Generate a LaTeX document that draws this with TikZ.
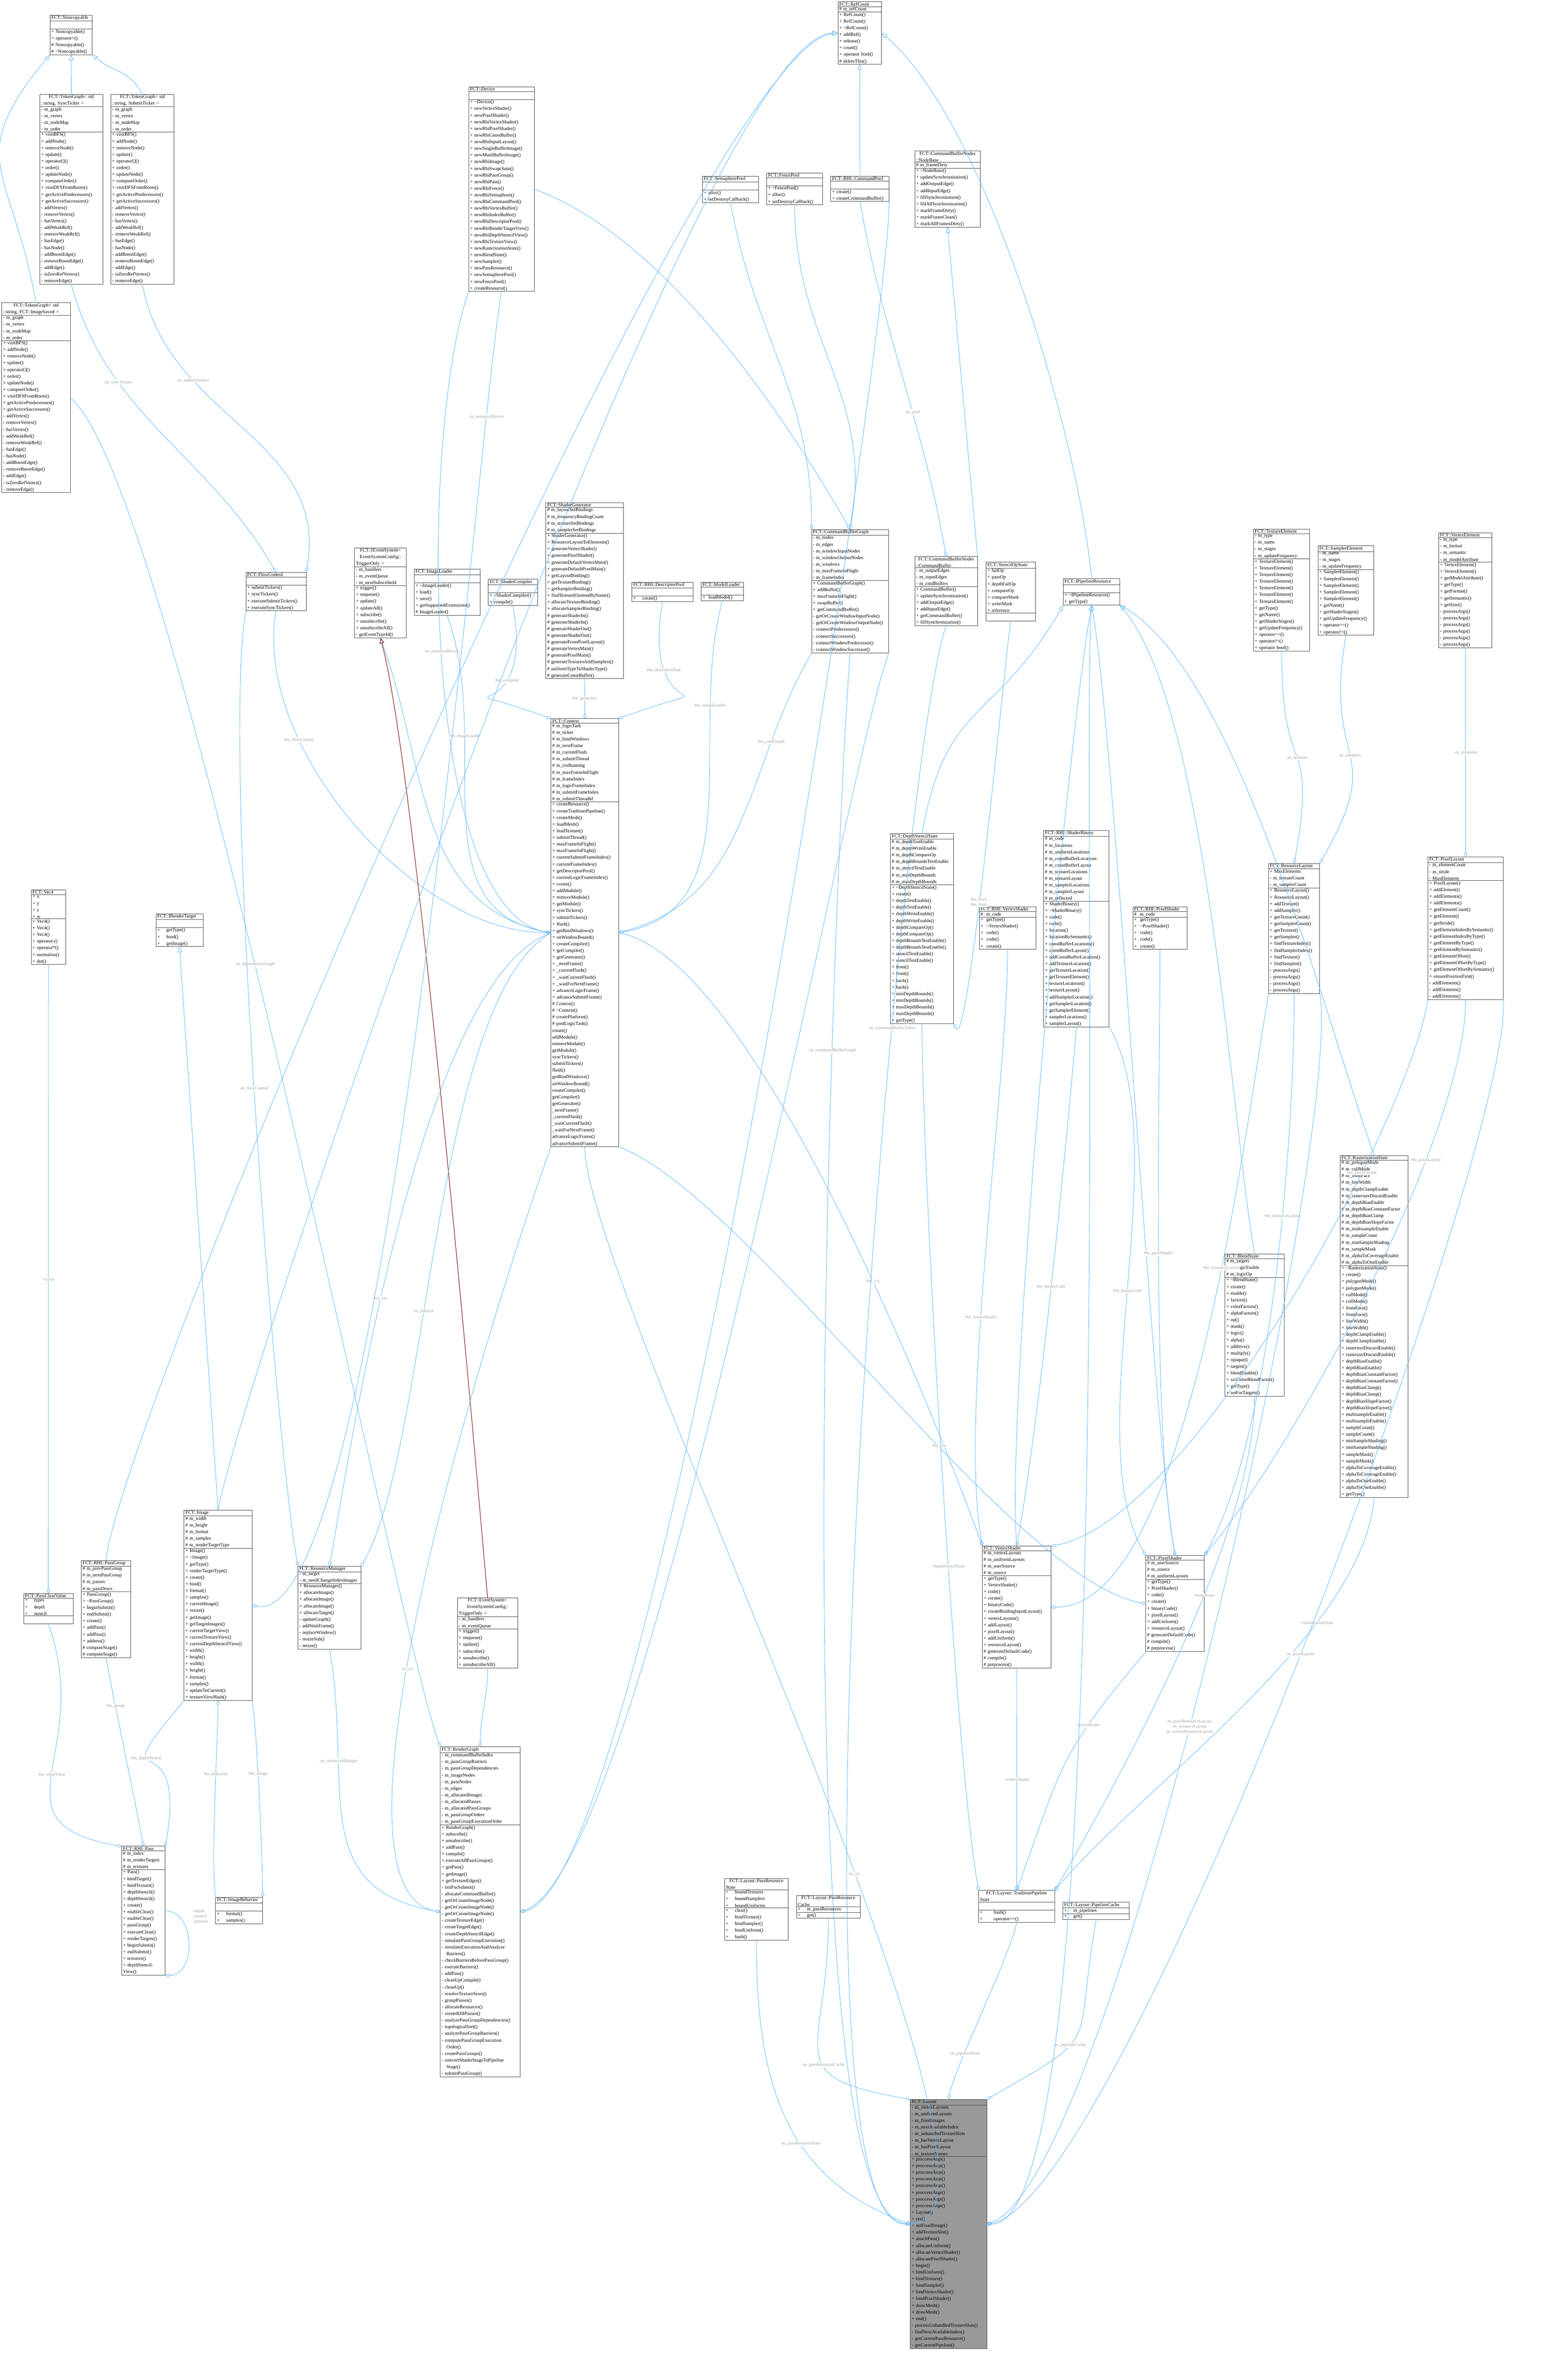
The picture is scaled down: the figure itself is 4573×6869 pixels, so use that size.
\documentclass[tikz,border=0pt]{standalone}
\usepackage{fontspec}
\setmainfont{Liberation Serif}
\usetikzlibrary{shapes.multipart,arrows.meta,calc}
\definecolor{edgeblue}{RGB}{99,184,255}
\definecolor{lblgray}{RGB}{160,160,160}
\definecolor{inhred}{RGB}{139,26,26}
\definecolor{boxgray}{RGB}{153,153,153}
\tikzset{
  umlbox/.style={draw=black!70, line width=0.12pt, rectangle split, rectangle split parts=3,
    rectangle split empty part height=12pt, inner xsep=4pt, inner ysep=2pt, anchor=north west,
    align=left, font=\fontsize{14}{19.4}\selectfont, fill=white},
  agg/.style={draw=edgeblue, line width=0.13pt, -{Diamond[open,length=1.6pt,width=1pt]}},
  inh/.style={draw=edgeblue, line width=0.13pt, -{Triangle[open,length=1.6pt,width=1.3pt]}},
  inhr/.style={draw=inhred, line width=0.16pt, -{Triangle[open,length=1.6pt,width=1.3pt]}},
  lbl/.style={text=lblgray, font=\fontsize{13}{15}\selectfont, fill=white, inner sep=1pt},
  cv/.style args={#1/#2}{to path={.. controls ($(\tikztostart)+({-(#1)}:400)$) and ($(\tikztotarget)+({-(#2)}:400)$) .. (\tikztotarget) \tikztonodes}},
  cvs/.style args={#1/#2}{to path={.. controls ($(\tikztostart)+({-(#1)}:90)$) and ($(\tikztotarget)+({-(#2)}:90)$) .. (\tikztotarget) \tikztonodes}}
}
\newcommand\uml[8][]{\pgfmathsetmacro\umlw{#5-8}%
  \node[umlbox, text width=\umlw pt, #1] (#2) at (#3,#4) {\centering #6\nodepart{two}#7\nodepart{three}#8};}
\begin{document}
\begin{tikzpicture}[x=1pt,y=-1pt,scale=0.1,transform shape]
\useasboundingbox (0,0) rectangle (4573,6869);
% ---------------- top left -----------------
\uml{noncopy}{146}{44}{123}{FCT::Noncopyable}{\strut}{+ Noncopyable()\\+ operator=()\\\# Noncopyable()\\\# \textasciitilde Noncopyable()}
\def\tgattrs{- m\_graph\\- m\_vertex\\- m\_nodeMap\\- m\_order}
\def\tgmeth{+ visitBFS()\\+ addNode()\\+ removeNode()\\+ update()\\+ operator[]()\\+ order()\\+ updateNode()\\+ computeOrder()\\+ visitDFSFromRoots()\\+ getActivePredecessors()\\+ getActiveSuccessors()\\- addVertex()\\- removeVertex()\\- hasVertex()\\- addWeakRef()\\- removeWeakRef()\\- hasEdge()\\- hasNode()\\- addBoostEdge()\\- removeBoostEdge()\\- addEdge()\\- isZeroRefVertex()\\- removeEdge()}
\uml{tgsync}{116}{275}{184}{FCT::TokenGraph< std\\::string, SyncTicker >}{\tgattrs}{\tgmeth}
\uml{tgsubmit}{323}{275}{185}{FCT::TokenGraph< std\\::string, SubmitTicker >}{\tgattrs}{\tgmeth}
\uml{tgimg}{5}{883}{200}{FCT::TokenGraph< std\\::string, FCT::ImageSaved >}{\tgattrs}{\tgmeth}
\uml{flow}{717}{1669}{176}{FCT::FlowControl}{\strut}{+ submitTickers()\\+ syncTickers()\\+ executeSubmitTickers()\\+ executeSyncTickers()}
% ---------------- top center -----------------
\uml{device}{1367}{253}{191}{FCT::Device}{\strut}{+ \textasciitilde Device()\\+ newVertexShader()\\+ newPixelShader()\\+ newRhiVertexShader()\\+ newRhiPixelShader()\\+ newRhiConstBuffer()\\+ newRhiInputLayout()\\+ newSingleBufferImage()\\+ newMutilBufferImage()\\+ newRhiImage()\\+ newRhiSwapchain()\\+ newRhiPassGroup()\\+ newRhiPass()\\+ newRhiFence()\\+ newRhiSemaphore()\\+ newRhiCommandPool()\\+ newRhiVertexBuffer()\\+ newRhiIndexBuffer()\\+ newRhiDescriptorPool()\\+ newRhiRenderTargetView()\\+ newRhiDepthStencilView()\\+ newRhiTextureView()\\+ newRasterizationState()\\+ newBlendState()\\+ newSampler()\\+ newPassResource()\\+ newSemaphorePool()\\+ newFencePool()\\+ createResource()}
\uml{refcount}{2444}{5}{127}{FCT::RefCount}{\# m\_refCount}{+ RefCount()\\+ RefCount()\\+ \textasciitilde RefCount()\\+ addRef()\\+ release()\\+ count()\\+ operator bool()\\\# deleteThis()}
\uml{sempool}{2049}{514}{163}{FCT::SemaphorePool}{\strut}{+ alloc()\\+ setDestroyCallback()}
\uml{fencepool}{2236}{504}{163}{FCT::FencePool}{\strut}{+ \textasciitilde FencePool()\\+ alloc()\\+ setDestroyCallback()}
\uml{cmdpool}{2423}{514}{170}{FCT::RHI::CommandPool}{\strut}{+ create()\\+ createCommandBuffer()}
\uml{nodebase}{2668}{440}{191}{FCT::CommandBufferNodes\\::NodeBase}{\# m\_frameDirty}{+ \textasciitilde NodeBase()\\+ updateSynchronization()\\+ addOutputEdge()\\+ addInputEdge()\\+ fillSynchronization()\\+ fillAllSynchronization()\\+ markFrameDirty()\\+ markFrameClean()\\+ markAllFramesDirty()}
\uml{cmdbuf}{2668}{1623}{183}{FCT::CommandBufferNodes\\::CommandBuffer}{- m\_outputEdges\\- m\_inputEdges\\- m\_cmdBuffers}{+ CommandBuffer()\\+ updateSynchronization()\\+ addOutputEdge()\\+ addInputEdge()\\+ getCommandBuffer()\\+ fillSynchronization()}
\uml{stencil}{2876}{1640}{144}{FCT::StencilOpState}{+ failOp\\+ passOp\\+ depthFailOp\\+ compareOp\\+ compareMask\\+ writeMask\\+ reference}{\strut}
\uml{ipipe}{3101}{1688}{165}{FCT::IPipelineResource}{\strut}{+ \textasciitilde IPipelineResource()\\+ getType()}
\uml{texel}{3656}{1543}{164}{FCT::TextureElement}{- m\_type\\- m\_name\\- m\_stages\\- m\_updateFrequency}{+ TextureElement()\\+ TextureElement()\\+ TextureElement()\\+ TextureElement()\\+ TextureElement()\\+ TextureElement()\\+ TextureElement()\\+ getType()\\+ getName()\\+ getShaderStages()\\+ getUpdateFrequency()\\+ operator==()\\+ operator!=()\\+ operator bool()}
\uml{sampel}{3844}{1592}{163}{FCT::SamplerElement}{- m\_name\\- m\_stages\\- m\_updateFrequency}{+ SamplerElement()\\+ SamplerElement()\\+ SamplerElement()\\+ SamplerElement()\\+ SamplerElement()\\+ getName()\\+ getShaderStages()\\+ getUpdateFrequency()\\+ operator==()\\+ operator!=()}
\uml{vertel}{4196}{1554}{156}{FCT::VertexElement}{- m\_type\\- m\_format\\- m\_semantic\\- m\_modelAttribute}{+ VertexElement()\\+ VertexElement()\\+ getModelAttribute()\\+ getType()\\+ getFormat()\\+ getSemantic()\\+ getSize()\\- processArgs()\\- processArgs()\\- processArgs()\\- processArgs()\\- processArgs()\\- processArgs()}
% ---------------- middle row -----------------
\uml{ievent}{1034}{1598}{151}{FCT::IEventSystem<\\EventSystemConfig::\\TriggerOnly >}{- m\_handlers\\- m\_eventQueue\\- m\_nextSubscribeId}{+ trigger()\\+ enqueue()\\+ update()\\+ updateAll()\\+ subscribe()\\+ unsubscribe()\\+ unsubscribeAll()\\- getEventTypeId()}
\uml{imgloader}{1208}{1660}{192}{FCT::ImageLoader}{\strut}{+ \textasciitilde ImageLoader()\\+ load()\\+ save()\\+ getSupportedExtensions()\\\# ImageLoader()}
\uml{compiler}{1424}{1689}{144}{FCT::ShaderCompiler}{\strut}{+ \textasciitilde ShaderCompiler()\\+ compile()}
\uml{generator}{1592}{1466}{226}{FCT::ShaderGenerator}{\# m\_layoutSetBindings\\\# m\_frequencyBindingCount\\\# m\_textureSetBindings\\\# m\_samplerSetBindings}{+ ShaderGenerator()\\+ ResourceLayoutToElements()\\+ generateVertexShader()\\+ generatePixelShader()\\+ generateDefaultVertexMain()\\+ generateDefaultPixelMain()\\+ getLayoutBinding()\\+ getTextureBinding()\\+ getSamplerBinding()\\+ findTextureElementByName()\\+ allocateTextureBinding()\\+ allocateSamplerBinding()\\\# generateShaderIn()\\\# generateShaderIn()\\\# generateShaderOut()\\\# generateShaderOut()\\\# generateFromPixelLayout()\\\# generateVertexMain()\\\# generatePixelMain()\\\# generateTexturesAndSamplers()\\\# uniformTypeToShaderType()\\\# generateConstBuffer()}
\uml{descpool}{1843}{1698}{179}{FCT::RHI::DescriptorPool}{\strut}{+ \quad create()}
\uml{modelloader}{2045}{1698}{123}{FCT::ModelLoader}{\strut}{+ \ loadModel()}
\uml{cbgraph}{2367}{1544}{225}{FCT::CommandBufferGraph}{- m\_nodes\\- m\_edges\\- m\_windowInputNodes\\- m\_windowOutputNodes\\- m\_windows\\- m\_maxFrameInFlight\\- m\_frameIndex}{+ CommandBufferGraph()\\+ addBuffer()\\+ maxFrameInFlight()\\+ swapBuffer()\\+ getCommandBuffer()\\- getOrCreateWindowInputNode()\\- getOrCreateWindowOutputNode()\\- connectPredecessors()\\- connectSuccessors()\\- connectWindowPredecessor()\\- connectWindowSuccessor()}
\uml{context}{1607}{2096}{197}{FCT::Context}{\# m\_logicTask\\\# m\_ticker\\\# m\_bindWindows\\\# m\_nextFrame\\\# m\_currentFlush\\\# m\_submitThread\\\# m\_ctxRunning\\\# m\_maxFrameInFlight\\\# m\_frameIndex\\\# m\_logicFrameIndex\\\# m\_submitFrameIndex\\\# m\_submitThreadId}{+ createResource()\\+ createTraditionPipeline()\\+ createMesh()\\+ loadMesh()\\+ loadTexture()\\+ submitThread()\\+ maxFrameInFlight()\\+ maxFrameInFlight()\\+ currentSubmitFrameIndex()\\+ currentFrameIndex()\\+ getDescriptorPool()\\+ currentLogicFrameIndex()\\+ create()\\+ addModule()\\+ removeModule()\\+ getModule()\\+ syncTickers()\\+ submitTickers()\\+ flush()\\+ getBindWindows()\\+ onWindowBound()\\+ createCompiler()\\+ getCompiler()\\+ getGenerator()\\+ \_nextFrame()\\+ \_currentFlush()\\+ \_waitCurrentFlush()\\+ \_waitForNextFrame()\\+ advanceLogicFrame()\\+ advanceSubmitFrame()\\\# Context()\\\# \textasciitilde Context()\\\# createPlatform()\\\# postLogicTask()\\* create()\\* addModule()\\* removeModule()\\* getModule()\\* syncTickers()\\* submitTickers()\\* flush()\\* getBindWindows()\\* onWindowBound()\\* createCompiler()\\* getCompiler()\\* getGenerator()\\* \_nextFrame()\\* \_currentFlush()\\* \_waitCurrentFlush()\\* \_waitForNextFrame()\\* advanceLogicFrame()\\* advanceSubmitFrame()}
% ---------------- right middle -----------------
\uml{dss}{2597}{2431}{184}{FCT::DepthStencilState}{\# m\_depthTestEnable\\\# m\_depthWriteEnable\\\# m\_depthCompareOp\\\# m\_depthBoundsTestEnable\\\# m\_stencilTestEnable\\\# m\_minDepthBounds\\\# m\_maxDepthBounds}{+ \textasciitilde DepthStencilState()\\+ create()\\+ depthTestEnable()\\+ depthTestEnable()\\+ depthWriteEnable()\\+ depthWriteEnable()\\+ depthCompareOp()\\+ depthCompareOp()\\+ depthBoundsTestEnable()\\+ depthBoundsTestEnable()\\+ stencilTestEnable()\\+ stencilTestEnable()\\+ front()\\+ front()\\+ back()\\+ back()\\+ minDepthBounds()\\+ minDepthBounds()\\+ maxDepthBounds()\\+ maxDepthBounds()\\+ getType()}
\uml{rhivs}{2856}{2645}{165}{FCT::RHI::VertexShader}{\# \ m\_code}{+ \ getType()\\+ \ \textasciitilde VertexShader()\\+ \ code()\\+ \ code()\\+ \ create()}
\uml{shbin}{3044}{2422}{191}{FCT::RHI::ShaderBinary}{\# m\_code\\\# m\_locations\\\# m\_uniformLocations\\\# m\_constBufferLocations\\\# m\_constBufferLayout\\\# m\_textureLocations\\\# m\_textureLayout\\\# m\_samplerLocations\\\# m\_samplerLayout\\\# m\_reflected}{+ ShaderBinary()\\+ \textasciitilde ShaderBinary()\\+ code()\\+ code()\\+ location()\\+ locationBySemantic()\\+ constBufferLocations()\\+ constBufferLayout()\\+ addConstBufferLocation()\\+ addTextureLocation()\\+ getTextureLocation()\\+ getTextureElement()\\+ textureLocations()\\+ textureLayout()\\+ addSamplerLocation()\\+ getSamplerLocation()\\+ getSamplerElement()\\+ samplerLocations()\\+ samplerLayout()}
\uml{rhips}{3304}{2645}{158}{FCT::RHI::PixelShader}{\# \ m\_code}{+ \ getType()\\+ \ \textasciitilde PixelShader()\\+ \ code()\\+ \ code()\\+ \ create()}
\uml{reslayout}{3700}{2518}{149}{FCT::ResourceLayout}{+ MaxElements\\- m\_textureCount\\- m\_samplerCount}{+ ResourceLayout()\\+ ResourceLayout()\\+ addTexture()\\+ addSampler()\\+ getTextureCount()\\+ getSamplerCount()\\+ getTexture()\\+ getSampler()\\+ findTextureIndex()\\+ findSamplerIndex()\\+ findTexture()\\+ findSampler()\\- processArgs()\\- processArgs()\\- processArgs()\\- processArgs()}
\uml{pixlayout}{4165}{2499}{219}{FCT::PixelLayout}{- m\_elementCount\\- m\_stride\\- MaxElements}{+ PixelLayout()\\+ addElement()\\+ addElements()\\+ addElements()\\+ getElementCount()\\+ getElement()\\+ getStride()\\+ getElementIndexBySemantic()\\+ getElementIndexByType()\\+ getElementByType()\\+ getElementBySemantic()\\+ getElementOffset()\\+ getElementOffsetByType()\\+ getElementOffsetBySemantic()\\+ ensurePositionFirst()\\- addElements()\\- addElements()\\- addElements()}
\uml{raster}{3909}{3370}{198}{FCT::RasterizationState}{\# m\_polygonMode\\\# m\_cullMode\\\# m\_frontFace\\\# m\_lineWidth\\\# m\_depthClampEnable\\\# m\_rasterizerDiscardEnable\\\# m\_depthBiasEnable\\\# m\_depthBiasConstantFactor\\\# m\_depthBiasClamp\\\# m\_depthBiasSlopeFactor\\\# m\_multisampleEnable\\\# m\_sampleCount\\\# m\_minSampleShading\\\# m\_sampleMask\\\# m\_alphaToCoverageEnable\\\# m\_alphaToOneEnable}{+ \textasciitilde RasterizationState()\\+ create()\\+ polygonMode()\\+ polygonMode()\\+ cullMode()\\+ cullMode()\\+ frontFace()\\+ frontFace()\\+ lineWidth()\\+ lineWidth()\\+ depthClampEnable()\\+ depthClampEnable()\\+ rasterizerDiscardEnable()\\+ rasterizerDiscardEnable()\\+ depthBiasEnable()\\+ depthBiasEnable()\\+ depthBiasConstantFactor()\\+ depthBiasConstantFactor()\\+ depthBiasClamp()\\+ depthBiasClamp()\\+ depthBiasSlopeFactor()\\+ depthBiasSlopeFactor()\\+ multisampleEnable()\\+ multisampleEnable()\\+ sampleCount()\\+ sampleCount()\\+ minSampleShading()\\+ minSampleShading()\\+ sampleMask()\\+ sampleMask()\\+ alphaToCoverageEnable()\\+ alphaToCoverageEnable()\\+ alphaToOneEnable()\\+ alphaToOneEnable()\\+ getType()}
\uml{blend}{3573}{3657}{172}{FCT::BlendState}{\# m\_targets\\\# m\_logicEnable\\\# m\_logicOp}{+ \textasciitilde BlendState()\\+ create()\\+ enable()\\+ factors()\\+ colorFactors()\\+ alphaFactors()\\+ op()\\+ mask()\\+ logic()\\+ alpha()\\+ additive()\\+ multiply()\\+ opaque()\\+ targets()\\+ blendEnable()\\+ srcColorBlendFactor()\\+ getType()\\+ setForTargets()}
\uml{vs}{2865}{4509}{201}{FCT::VertexShader}{\# m\_vertexLayouts\\\# m\_uniformLayouts\\\# m\_userSource\\\# m\_source}{+ getType()\\+ VertexShader()\\+ code()\\+ create()\\+ binaryCode()\\+ createBindingInputLayout()\\+ vertexLayouts()\\+ addLayout()\\+ pixelLayout()\\+ addUniform()\\+ resourceLayout()\\\# generateDefaultCode()\\\# compile()\\\# preprocess()}
\uml{ps}{3342}{4537}{170}{FCT::PixelShader}{\# m\_userSource\\\# m\_source\\\# m\_uniformLayouts}{+ getType()\\+ PixelShader()\\+ code()\\+ create()\\+ binaryCode()\\+ pixelLayout()\\+ addUniform()\\+ resourceLayout()\\\# generateDefaultCode()\\\# compile()\\\# preprocess()}
\uml{prs}{2113}{5479}{186}{FCT::Layout::PassResource\\State}{+ \quad boundTextures\\+ \quad boundSamplers\\+ \quad boundUniforms}{+ \quad clear()\\+ \quad bindTexture()\\+ \quad bindSampler()\\+ \quad bindUniform()\\+ \quad hash()}
\uml{prc}{2323}{5529}{186}{FCT::Layout::PassResource\\Cache}{+ \quad m\_passResources}{+ \quad get()}
\uml{tps}{2854}{5514}{222}{FCT::Layout::TraditionPipeline\\State}{\strut}{+ \qquad hash()\\+ \qquad operator==()}
\uml{pcache}{3100}{5548}{194}{FCT::Layout::PipelineCache}{+ \quad m\_pipelines}{+ \quad get()}
\uml[fill=boxgray]{layout}{2655}{6123}{223}{FCT::Layout}{- m\_vertexLayouts\\- m\_uniformLayouts\\- m\_fixedImages\\- m\_nextAvailableIndex\\- m\_unhandledTextureSlots\\- m\_hasVertexLayout\\- m\_hasPixelLayout\\- m\_textureNames}{+ proccessArgs()\\+ proccessArgs()\\+ proccessArgs()\\+ proccessArgs()\\+ proccessArgs()\\+ proccessArgs()\\+ proccessArgs()\\+ proccessArgs()\\+ Layout()\\+ ctx()\\+ setFixedImage()\\+ addTextureSlot()\\+ attachPass()\\+ allocateUniform()\\+ allocateVertexShader()\\+ allocatePixelShader()\\+ begin()\\+ bindUniform()\\+ bindTexture()\\+ bindSampler()\\+ bindVertexShader()\\+ bindPixelShader()\\+ drawMesh()\\+ drawMesh()\\+ end()\\- processUnhandledTextureSlots()\\- findNextAvailableIndex()\\- getCurrentPassResource()\\- getCurrentPipeline()}
% ---------------- bottom left -----------------
\uml{vec4}{91}{2596}{101}{FCT::Vec4}{+ x\\+ y\\+ z\\+ w}{+ Vec4()\\+ Vec4()\\+ Vec4()\\+ operator-()\\+ operator*()\\+ normalize()\\+ dot()}
\uml{irt}{455}{2665}{137}{FCT::IRenderTarget}{\strut}{+ \quad getType()\\+ \quad bind()\\+ \quad getImage()}
\uml{pcv}{69}{4648}{144}{FCT::PassClearValue}{+ \quad types\\+ \quad depth\\+ \quad stencil}{\strut}
\uml{passgroup}{237}{4552}{144}{FCT::RHI::PassGroup}{\# m\_prevPassGroup\\\# m\_nextPassGroup\\\# m\_passes\\\# m\_passDescs}{+ PassGroup()\\+ \textasciitilde PassGroup()\\+ beginSubmit()\\+ endSubmit()\\+ create()\\+ addPass()\\+ addPass()\\+ address()\\\# computeStage()\\\# computeStage()}
\uml{image}{537}{4405}{198}{FCT::Image}{\# m\_width\\\# m\_height\\\# m\_format\\\# m\_samples\\\# m\_renderTargetType}{+ Image()\\+ \textasciitilde Image()\\+ getType()\\+ renderTargetType()\\+ create()\\+ bind()\\+ format()\\+ samples()\\+ currentImage()\\+ resize()\\+ getImage()\\+ getTargetImages()\\+ currentTargetView()\\+ currentTextureView()\\+ currentDepthStencilView()\\+ width()\\+ height()\\+ width()\\+ height()\\+ format()\\+ samples()\\+ updateToCurrent()\\+ textureViewHash()}
\uml{resman}{869}{4568}{184}{FCT::ResourceManager}{- m\_target\\- m\_needChangeIndexImages}{+ ResourceManager()\\+ allocateImage()\\+ allocateImage()\\+ allocateImage()\\+ allocateTarget()\\- updateGraph()\\- addWaitFrame()\\- replaceWindow()\\- resizeSub()\\- resize()}
\uml{pass}{355}{5385}{127}{FCT::RHI::Pass}{\# m\_index\\\# m\_renderTargets\\\# m\_textures}{+ Pass()\\+ bindTarget()\\+ bindTexture()\\+ depthStencil()\\+ depthStencil()\\+ create()\\+ enableClear()\\+ enableClear()\\+ passGroup()\\+ executeClear()\\+ renderTargets()\\+ beginSubmit()\\+ endSubmit()\\+ textures()\\+ depthStencilView()}
\uml{imgbeh}{629}{5534}{137}{FCT::ImageBehavior}{\strut}{+ \quad format()\\+ \quad samples()}
\uml{eventsys}{1334}{4660}{176}{FCT::EventSystem<\\EventSystemConfig::\\TriggerOnly >}{- m\_handlers\\- m\_eventQueue}{+ trigger()\\+ enqueue()\\+ update()\\+ subscribe()\\+ unsubscribe()\\+ unsubscribeAll()}
\uml{rendergraph}{1284}{5095}{233}{FCT::RenderGraph}{- m\_commandBufferIndex\\- m\_passGroupBarriers\\- m\_passGroupDependencies\\- m\_imageNodes\\- m\_passNodes\\- m\_edges\\- m\_allocatedImages\\- m\_allocatedPasses\\- m\_allocatedPassGroups\\- m\_passGroupOrders\\- m\_passGroupExecutionOrder}{+ RenderGraph()\\+ subscribe()\\+ unsubscribe()\\+ addPass()\\+ compile()\\+ executeAllPassGroups()\\+ getPass()\\+ getImage()\\+ getTextureEdges()\\- initForSubmit()\\- allocateCommandBuffer()\\- getOrCreateImageNode()\\- getOrCreateImageNode()\\- getOrCreateImageNode()\\- createTextureEdge()\\- createTargetEdge()\\- createDepthStencilEdge()\\- simulatePassGroupExecution()\\- simulateExecutionAndAnalyze\\\hspace*{1em}Barriers()\\- checkBarriersBeforePassGroup()\\- executeBarriers()\\- addPass()\\- cleanUpCompile()\\- cleanUp()\\- resolveTextureSizes()\\- groupPasses()\\- allocateResources()\\- createRHIPasses()\\- analyzePassGroupDependencies()\\- topologicalSort()\\- analyzePassGroupBarriers()\\- computePassGroupExecution\\\hspace*{1em}Order()\\- createPassGroups()\\- convertShaderStageToPipeline\\\hspace*{1em}Stage()\\- submitPassGroup()}
% ================= connectors =================
\draw[inh] (tgsync.north) -- (noncopy.south);
\draw[inh] (tgsubmit.north) to[cvs=120/-40] (noncopy.south east);
\draw[inh] (tgimg.north) to[cv=100/-130] (noncopy.south west);
\draw[agg] (tgsync.south) to[cv=-75/120] node[lbl,pos=0.3]{-m\_syncTickers} (flow.north);
\draw[agg] (tgsubmit.south) to[cv=-80/80] node[lbl,pos=0.3]{-m\_submitTickers} (flow.north east);
\draw[agg] (tgimg.east) to[cv=-40/110] node[lbl,pos=0.45]{-m\_dependencyGraph} (rendergraph.north west);
\draw[agg] (flow.south) to[cv=-100/180] node[lbl,pos=0.3]{\#m\_flowControl} (context.west);
\draw[agg] (device.south west) to[cv=-110/170] node[lbl,pos=0.5]{-m\_resourceDevice} (context.west);
\draw[inh] (context.west) to[cv=170/-70] (ievent.south);
\draw[inhr] (eventsys.north) to[cv=95/-75] (ievent.south);
\draw[agg] (imgloader.south) to[cv=-70/170] node[lbl,pos=0.3]{\#m\_imageLoader} (context.west);
\draw[agg] (compiler.south) to[cv=-80/160] node[lbl,pos=0.3]{\#m\_compiler} (context.north west);
\draw[agg] (generator.south) -- node[lbl]{\#m\_generator} (context.north);
\draw[agg] (descpool.south) to[cv=-100/20] node[lbl,pos=0.25]{\#m\_descriptorPool} (context.north east);
\draw[agg] (modelloader.south) to[cv=-105/10] node[lbl,pos=0.25]{\#m\_modelLoader} (context.east);
\draw[agg] (cbgraph.south west) to[cv=-120/15] node[lbl,pos=0.25]{\#m\_cmdGraph} (context.east);
\draw[inh] (cmdpool.north) -- (refcount.south);
\draw[inh] (image.north) to[cv=80/180] (refcount.west);
\draw[inh] (passgroup.north) to[cv=85/185] (refcount.west);
\draw[inh] (ipipe.north) to[cv=95/-40] (refcount.east);
\draw[agg] (cmdpool.south) to[cv=-80/100] node[lbl,pos=0.6]{-m\_pool} (cmdbuf.north);
\draw[inh] (cmdbuf.north east) -- (nodebase.south);
\draw[agg] (sempool.south) to[cv=-80/90] (cbgraph.north west);
\draw[agg] (fencepool.south) to[cv=-90/80] (cbgraph.north);
\draw[agg] (device.east) to[cv=-20/120] (cbgraph.north);
\draw[inh] (dss.north) to[cv=80/-120] (ipipe.south west);
\draw[inh] (raster.north) to[cv=110/-30] (ipipe.south east);
\draw[inh] (blend.north) to[cv=100/-50] (ipipe.south east);
\draw[inh] (vs.north) to[cv=95/-100] (ipipe.south);
\draw[inh] (ps.north) to[cv=100/-80] (ipipe.south);
\draw[agg] (stencil.south) to[cvs=-100/-60] node[lbl,pos=0.6,align=center]{\#m\_back\\\#m\_front} (dss.south east);
\draw[agg] (texel.south) to[cv=-90/80] node[lbl,pos=0.5]{-m\_textures} (reslayout.north);
\draw[agg] (sampel.south) to[cv=-100/60] node[lbl,pos=0.5]{-m\_samplers} (reslayout.north east);
\draw[agg] (vertel.south) -- node[lbl]{-m\_elements} (pixlayout.north);
\draw[agg] (rhivs.south) to[cv=-90/100] node[lbl,pos=0.6]{\#m\_vertexShader} (vs.north west);
\draw[agg] (shbin.south) to[cv=-95/80] node[lbl,pos=0.5]{\#m\_binaryCode} (vs.north);
\draw[agg] (shbin.south east) to[cv=-60/120] node[lbl,pos=0.5]{\#m\_binaryCode} (ps.north west);
\draw[agg] (rhips.south) to[cv=-90/100] node[lbl,pos=0.5]{\#m\_pixelShader} (ps.north);
\draw[agg] (reslayout.south west) to[cv=-100/0] node[lbl,pos=0.4]{\#m\_resourceLayout} (vs.east);
\draw[agg] (reslayout.south) to[cv=-90/60] node[lbl,pos=0.4]{\#m\_resourceLayout} (ps.north east);
\draw[agg] (pixlayout.south west) to[cv=-100/10] node[lbl,pos=0.3]{\#m\_pixelLayout} (vs.north east);
\draw[agg] (pixlayout.south) to[cv=-90/50] node[lbl,pos=0.3]{\#m\_pixelLayout} (ps.north east);
\draw[agg] (context.east) to[cv=-10/110] node[lbl,pos=0.6]{\#m\_ctx} (vs.north west);
\draw[agg] (context.south east) to[cv=-20/170] node[lbl,pos=0.6]{\#m\_ctx} (ps.west);
\draw[agg] (vs.south) -- node[lbl]{+vertexShader} (tps.north);
\draw[agg] (ps.south west) to[cv=-130/70] node[lbl,pos=0.3]{+pixelShader} (tps.north);
\draw[agg] (dss.south) to[cv=-90/100] node[lbl,pos=0.6]{+depthStencilState} (tps.north west);
\draw[agg] (blend.south) to[cv=-90/60] node[lbl,pos=0.4]{+blendState} (tps.north east);
\draw[agg] (raster.south) to[cv=-95/50] node[lbl,pos=0.3]{+rasterizationState} (tps.north east);
\draw[agg] (prs.south) to[cv=-90/160] node[lbl,pos=0.6]{-m\_passResourceState} (layout.west);
\draw[agg] (prc.south) to[cv=-90/170] node[lbl,pos=0.6]{-m\_passResourceCache} (layout.north west);
\draw[agg] (tps.south) to[cvs=-100/80] node[lbl,pos=0.7]{-m\_pipelineState} (layout.north);
\draw[agg] (pcache.south) to[cv=-100/30] node[lbl,pos=0.6]{-m\_pipelineCache} (layout.north east);
\draw[agg] (reslayout.south east) to[cv=-80/20] node[lbl,pos=0.55,align=center]{-m\_pixelResourceLayout\\-m\_resourceLayout\\-m\_vertexResourceLayout} (layout.east);
\draw[agg] (pixlayout.south east) to[cv=-85/10] node[lbl,pos=0.5]{-m\_pixelLayout} (layout.east);
\draw[agg] (cbgraph.south) to[cv=-95/175] node[lbl,pos=0.3]{-m\_commandBufferGraph} (layout.west);
\draw[agg] (cmdbuf.south) to[cv=-110/180] node[lbl,pos=0.3]{-m\_commandBufferToken} (layout.west);
\draw[agg] (vec4.south) -- node[lbl]{+color} (pcv.north);
\draw[agg] (pcv.south) to[cv=-70/170] node[lbl,pos=0.5]{\#m\_clearValue} (pass.north west);
\draw[agg] (passgroup.south) to[cvs=-80/100] node[lbl,pos=0.3]{\#m\_group} (pass.north);
\draw[agg] (image.south west) to[cv=-130/80] node[lbl,pos=0.4]{\#m\_depthStencil} (pass.north east);
\draw[agg] (imgbeh.north west) to[cvs=100/-90] node[lbl,pos=0.6]{\#m\_behavior} (image.south);
\draw[agg] (image.south east) to[cvs=-80/90] node[lbl,pos=0.4]{\#m\_image} (imgbeh.north east);
\draw[agg] (pass.east) to[cvs=0/0] (pass.south east);
\node[lbl,align=left,anchor=west] (passloop) at (560,5590) {+depth\\+stencil\\+present};
\draw[inh] (image.north) -- (irt.south);
\draw[agg] (resman.south) to[cv=-80/170] node[lbl,pos=0.3]{-m\_resourceManager} (rendergraph.west);
\draw[agg] (context.west) to[cv=200/80] node[lbl,pos=0.6]{\#m\_ctx} (resman.north);
\draw[agg] (context.west) to[cv=210/60] node[lbl,pos=0.6]{-m\_context} (resman.north east);
\draw[agg] (flow.south west) to[cv=-100/100] node[lbl,pos=0.5]{-m\_flowControl} (resman.north west);
\draw[agg] (device.south) to[cv=-100/-10] node[lbl,pos=0.15]{-m\_resourceDevice} (image.east);
\draw[agg] (context.south west) to[cv=-110/170] node[lbl,pos=0.6]{-m\_ctx} (rendergraph.west);
\draw[agg] (cbgraph.south east) to[cv=-110/20] (rendergraph.east);
\draw[agg] (cmdpool.south east) to[cv=-90/10] (rendergraph.east);
\draw[agg] (eventsys.south) to[cvs=-90/90] (rendergraph.north);
\draw[agg] (context.south) to[cv=-90/10] node[lbl,pos=0.6]{-m\_ctx} (layout.west);
\draw[agg] (ipipe.south) to[cv=-95/0] (layout.east);
\end{tikzpicture}
\end{document}
